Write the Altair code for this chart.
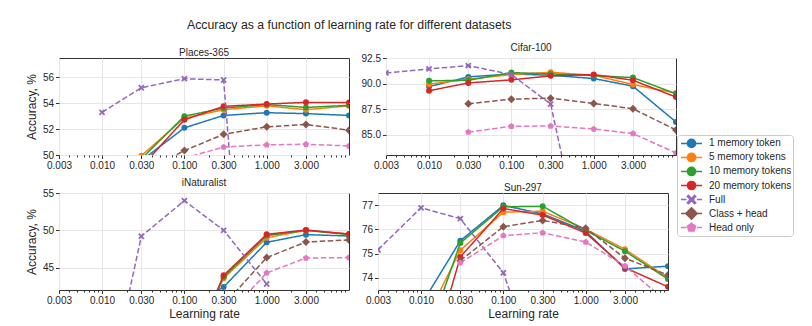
import altair as alt
import pandas as pd

LR = [0.003, 0.01, 0.03, 0.1, 0.3, 1.0, 3.0, 10.0]
SERIES = ["1 memory token", "5 memory tokens", "10 memory tokens", "20 memory tokens",
          "Full", "Class + head", "Head only"]
COLORS = ["#1f77b4", "#ff7f0e", "#2ca02c", "#d62728", "#9467bd", "#8c564b", "#e377c2"]

X_PATH = "M-1,-0.6L-0.6,-1L0,-0.4L0.6,-1L1,-0.6L0.4,0L1,0.6L0.6,1L0,0.4L-0.6,1L-1,0.6L-0.4,0Z"
PENT_PATH = "M0,-1L0.951,-0.309L0.588,0.809L-0.588,0.809L-0.951,-0.309Z"
SHAPES = ["circle", "circle", "circle", "circle", X_PATH, "diamond", PENT_PATH]
SIZES = [36, 36, 36, 36, 40, 64, 44]
LEG_SIZES = [95, 95, 95, 95, 110, 180, 110]
DASHED = [False, False, False, False, True, True, True]

# Places-365
places = [
    [None, None, 49.56, 52.10, 53.06, 53.27, 53.20, 53.06],
    [None, None, 49.95, 52.85, 53.50, 53.80, 53.50, 53.80],
    [None, None, 49.70, 53.00, 53.63, 53.90, 53.68, 53.84],
    [None, None, 49.10, 52.72, 53.76, 53.94, 54.07, 54.05],
    [None, 53.30, 55.20, 55.90, 55.80, 14.0, None, None],
    [None, None, 48.60, 50.34, 51.60, 52.18, 52.36, 51.92],
    [None, None, None, 49.75, 50.62, 50.78, 50.83, 50.70],
]
# Cifar-100
cifar = [
    [None, 89.70, 90.65, 90.94, 90.81, 90.49, 89.74, 86.23],
    [None, 89.94, 90.42, 90.88, 91.10, 90.81, 89.90, 89.06],
    [None, 90.26, 90.32, 91.07, 90.94, 90.78, 90.58, 89.00],
    [None, 89.29, 90.06, 90.36, 90.75, 90.88, 90.32, 88.67],
    [91.04, 91.43, 91.75, 90.88, 87.99, 68.6, None, None],
    [None, None, 88.02, 88.47, 88.57, 88.05, 87.53, 85.45],
    [None, None, 85.24, 85.81, 85.84, 85.55, 85.10, 83.20],
]
# iNaturalist
inat = [
    [None, None, None, 39.5, 42.41, 48.39, 49.42, 49.24],
    [None, None, None, 33.0, 43.57, 49.00, 50.00, 49.50],
    [None, None, None, 32.5, 43.75, 49.29, 50.00, 49.42],
    [None, None, None, 31.5, 43.97, 49.46, 50.04, 49.50],
    [None, 24.9, 49.20, 53.97, 50.00, 42.80, None, None],
    [None, None, None, None, 40.00, 46.34, 48.44, 48.70],
    [None, None, None, None, 38.10, 44.29, 46.29, 46.34],
]
# Sun-297
sun = [
    [None, 72.88, 75.53, 76.99, 76.64, 75.92, 74.37, 74.48],
    [None, 71.90, 75.14, 76.71, 76.75, 76.01, 75.18, 74.00],
    [None, 70.80, 75.44, 76.93, 76.95, 75.96, 75.10, 73.95],
    [None, 69.30, 74.86, 76.86, 76.59, 75.85, 74.42, 73.63],
    [75.16, 76.89, 76.44, 74.21, 69.60, None, None, None],
    [None, None, 74.71, 76.11, 76.37, 76.05, 74.81, 74.12],
    [None, None, 74.62, 75.74, 75.86, 75.48, 74.49, 72.97],
]

X_TICKS = [0.003, 0.01, 0.03, 0.1, 0.3, 1.0, 3.0]
X_MINOR = [0.004, 0.005, 0.006, 0.007, 0.008, 0.009,
           0.02, 0.04, 0.05, 0.06, 0.07, 0.08, 0.09,
           0.2, 0.4, 0.5, 0.6, 0.7, 0.8, 0.9,
           2, 4, 5, 6, 7, 8, 9]

FONT = "Liberation Sans"
TXT = "#262626"
PW, PH = 290, 97


def to_df(data):
    rows = []
    for s, vals in zip(SERIES, data):
        for lr, v in zip(LR, vals):
            if v is not None:
                rows.append({"lr": lr, "acc": v, "series": s})
    return pd.DataFrame(rows)


def panel(title, data, ydom, yticks, yfmt, xtitle, ytitle):
    df = to_df(data)
    base = alt.Chart(df)
    xscale = alt.Scale(type="log", domain=[0.003, 10], nice=False)
    yscale = alt.Scale(domain=ydom, nice=False, zero=False)
    xaxis = alt.Axis(values=X_TICKS, format=".3f", title=xtitle, labelFlush=False,
                     tickSize=3.5, grid=True, orient="bottom")
    yaxis = alt.Axis(values=yticks, format=yfmt, title=ytitle, tickSize=3.5, grid=True)
    layers = []
    for i, s in enumerate(SERIES):
        sub = base.transform_filter(alt.datum.series == s)
        dash = [5.5, 2.5] if DASHED[i] else [1, 0]
        enc = dict(x=alt.X("lr:Q", scale=xscale, axis=xaxis),
                   y=alt.Y("acc:Q", scale=yscale, axis=yaxis))
        layers.append(sub.mark_line(color=COLORS[i], strokeWidth=1.5, strokeDash=dash,
                                    clip=True).encode(**enc))
        layers.append(sub.mark_point(shape=SHAPES[i], size=SIZES[i], filled=True,
                                     color=COLORS[i], opacity=1, clip=True).encode(**enc))
    main = alt.layer(*layers)
    minor_df = pd.DataFrame({"lr": X_MINOR})
    minor = alt.Chart(minor_df).mark_point(opacity=0, size=0, clip=True).encode(
        x=alt.X("lr:Q", scale=xscale,
                axis=alt.Axis(values=X_MINOR, labels=False, grid=False, tickSize=2,
                              title=None, orient="bottom")),
        y=alt.value(PH / 2),
    )
    return alt.layer(main, minor).resolve_axis(x="independent").properties(
        width=PW, height=PH,
        title=alt.TitleParams(title, fontSize=10, fontWeight="normal", font=FONT,
                              color=TXT, offset=0),
    )


p1 = panel("Places-365", places, [50, 57.5], [50, 52, 54, 56], "d", None, "Accuracy, %")
p2 = panel("Cifar-100", cifar, [83, 92.5], [85, 87.5, 90, 92.5], ".1f", None, None)
p3 = panel("iNaturalist", inat, [42, 55], [45, 50, 55], "d", "Learning rate", "Accuracy, %")
p4 = panel("Sun-297", sun, [73.5, 77.5], [74, 75, 76, 77], "d", "Learning rate", None)

grid = alt.vconcat(alt.hconcat(p1, p2, spacing=10), alt.hconcat(p3, p4, spacing=10), spacing=6)

# legend
leg_df = pd.DataFrame({"series": SERIES})
leg_base = alt.Chart(leg_df)
yl = alt.Y("series:N", scale=alt.Scale(type="point", domain=SERIES, padding=0.6), axis=None)
leg_layers = []
for i, s in enumerate(SERIES):
    sub = leg_base.transform_filter(alt.datum.series == s)
    dash = [5.5, 2.5] if DASHED[i] else [1, 0]
    leg_layers.append(sub.mark_rule(color=COLORS[i], strokeWidth=1.5, strokeDash=dash).encode(
        x=alt.value(4), x2=alt.value(25), y=yl))
    leg_layers.append(sub.mark_point(shape=SHAPES[i], size=LEG_SIZES[i], filled=True,
                                     color=COLORS[i], opacity=1).encode(x=alt.value(14.5), y=yl))
    leg_layers.append(sub.mark_text(align="left", baseline="middle", fontSize=10, font=FONT,
                                    color=TXT).encode(x=alt.value(32), y=yl, text="series:N"))
legend = alt.layer(*leg_layers).properties(
    width=116, height=101,
    view=alt.ViewBackground(stroke="#cccccc", strokeWidth=1, cornerRadius=3),
)
spacer = alt.Chart(leg_df).mark_point(opacity=0, size=0).encode(
    x=alt.value(0), y=alt.value(0)
).properties(width=116, height=6,
             view=alt.ViewBackground(strokeOpacity=0, fillOpacity=0))
legend_block = alt.vconcat(legend, spacer, spacing=0)

chart = alt.hconcat(grid, legend_block, spacing=-3, center=True).properties(
    title=alt.TitleParams("Accuracy as a function of learning rate for different datasets",
                          fontSize=12.3, fontWeight="normal", font=FONT, color=TXT,
                          anchor="middle", dx=-60, offset=11),
    padding={"left": 24, "top": 19, "right": 5, "bottom": 5},
    background="white",
).configure_view(stroke="#333333", strokeWidth=1).configure_axis(
    labelFont=FONT, titleFont=FONT, labelFontSize=10, titleFontSize=12,
    titleFontWeight="normal", labelColor=TXT, titleColor=TXT, tickColor="#333333",
    domain=False, gridColor="#e6e6e6", gridWidth=1, labelPadding=2, titlePadding=3,
).configure_axisY(titlePadding=4)

chart.save("out.html", embed_options={"renderer": "svg", "actions": False})
